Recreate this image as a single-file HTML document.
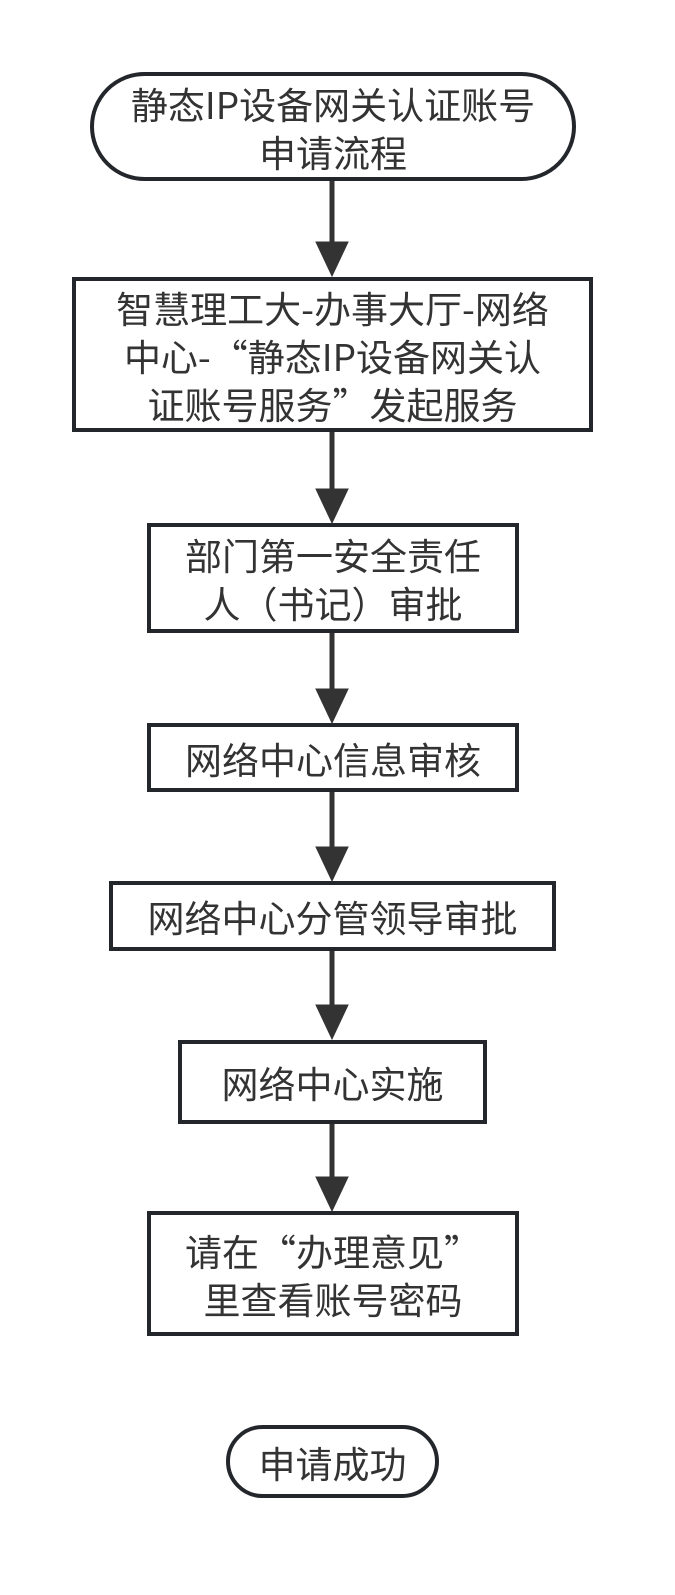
<!DOCTYPE html>
<html><head><meta charset="utf-8"><style>
body{margin:0;width:675px;height:1595px;background:#fff;position:relative;overflow:hidden;font-family:"Noto Sans CJK SC","Liberation Sans",sans-serif;color:#333;}
.b{position:absolute;box-sizing:border-box;border:4px solid #23272b;display:flex;align-items:center;justify-content:center;text-align:center;font-size:37px;line-height:48px;background:#fff;}
svg{position:absolute;left:0;top:0}
</style></head><body>
<svg width="675" height="1595">
<g stroke="#333" stroke-width="5" fill="#333">
<line x1="332" y1="180" x2="332" y2="245"/><polygon points="316,242 348,242 332,276" stroke-width="1"/>
<line x1="332" y1="431" x2="332" y2="492"/><polygon points="316,489 348,489 332,523" stroke-width="1"/>
<line x1="332" y1="632" x2="332" y2="692"/><polygon points="316,689 348,689 332,723" stroke-width="1"/>
<line x1="332" y1="791" x2="332" y2="850"/><polygon points="316,847 348,847 332,881" stroke-width="1"/>
<line x1="332" y1="950" x2="332" y2="1008"/><polygon points="316,1005 348,1005 332,1039" stroke-width="1"/>
<line x1="332" y1="1123" x2="332" y2="1180"/><polygon points="316,1177 348,1177 332,1211" stroke-width="1"/>
</g></svg>
<div class="b" style="left:90px;top:72px;width:486px;height:109px;border-radius:55px;">静态IP设备网关认证账号<br>申请流程</div>
<div class="b" style="left:72px;top:277px;width:521px;height:155px;">智慧理工大-办事大厅-网络<br>中心-“静态IP设备网关认<br>证账号服务”发起服务</div>
<div class="b" style="left:147px;top:523px;width:372px;height:110px;">部门第一安全责任<br>人（书记）审批</div>
<div class="b" style="left:147px;top:723px;width:372px;height:69px;">网络中心信息审核</div>
<div class="b" style="left:109px;top:881px;width:447px;height:70px;">网络中心分管领导审批</div>
<div class="b" style="left:178px;top:1040px;width:309px;height:84px;">网络中心实施</div>
<div class="b" style="left:147px;top:1211px;width:372px;height:125px;">请在“办理意见”<br>里查看账号密码</div>
<div class="b" style="left:226px;top:1425px;width:213px;height:73px;border-radius:37px;">申请成功</div>
</body></html>
